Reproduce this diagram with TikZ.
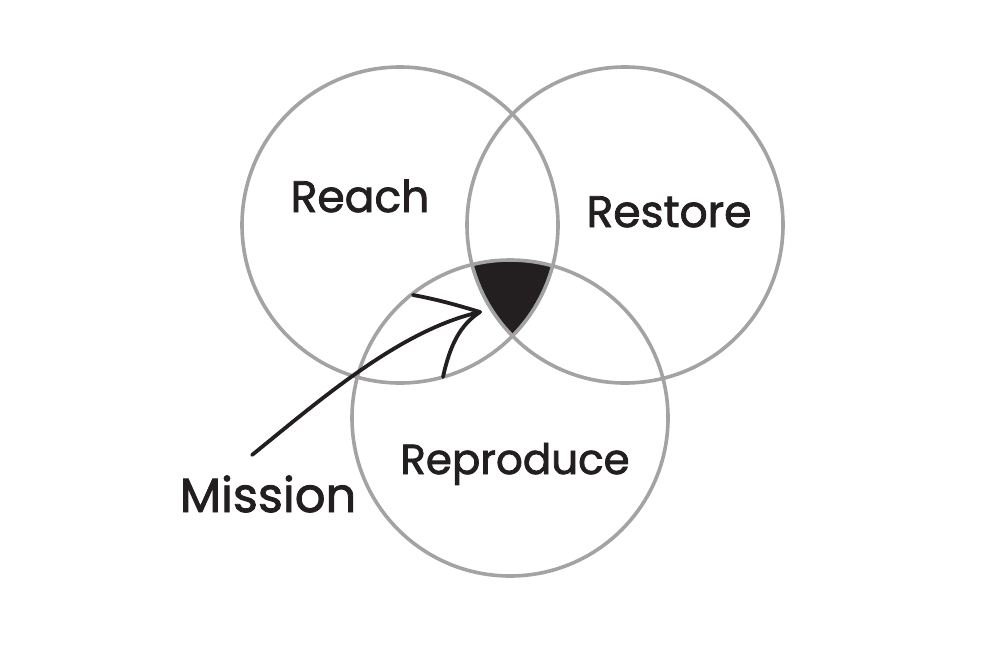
\documentclass[tikz,border=0pt]{standalone}
\usepackage{fontspec}
\newfontfamily\handfont{Poppins}[FakeBold=1.8]
\begin{document}
\begin{tikzpicture}[x=1pt,y=-1pt,
  ring/.style={circle, draw=ringgray, line width=3.6pt, minimum size=316pt, inner sep=0pt},
  lbl/.style={font=\handfont\fontsize{44}{44}\selectfont, text=inkblack, anchor=base, inner sep=0pt},
  biglbl/.style={font=\handfont\fontsize{48}{48}\selectfont, text=inkblack, anchor=base, inner sep=0pt},
  arrowline/.style={draw=inkblack, line width=3.8pt, line cap=round}
]
\definecolor{ringgray}{HTML}{A3A3A3}
\definecolor{inkblack}{HTML}{231F20}
\useasboundingbox (0,0) rectangle (1000,656);
\fill[white] (0,0) rectangle (1000,656);
% black centre region
\begin{scope}
  \clip (400,225) circle (158pt);
  \clip (625,225) circle (158pt);
  \fill[inkblack] (510,418) circle (158pt);
\end{scope}
\node[ring] (reach) at (400,225) {};
\node[ring] (restore) at (625,225) {};
\node[ring] (reproduce) at (510,418) {};
\node[lbl] (treach) at (360,212) {Reach};
\node[lbl] (trestore) at (669,227) {Restore};
\node[lbl, font=\handfont\fontsize{42}{42}\selectfont] (treproduce) at (515,474) {Reproduce};
\node[biglbl] (tmission) at (268,512) {Mission};
% arrow
\coordinate (astart) at (252,455);
\coordinate (atip) at (480,312);
\coordinate (bup) at (413,295);
\coordinate (blow) at (443,377);
\draw[arrowline] (astart) .. controls (320,400) and (400,330) .. (atip);
\draw[arrowline] (bup) .. controls (440,300) and (460,306) .. (atip);
\draw[arrowline] (blow) .. controls (450,345) and (460,325) .. (atip);
\end{tikzpicture}
\end{document}
